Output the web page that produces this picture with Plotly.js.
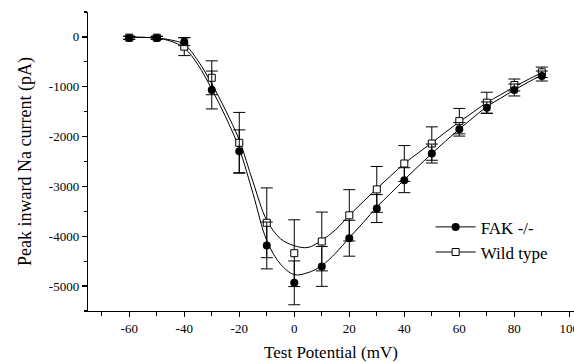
<!DOCTYPE html>
<html>
<head>
<meta charset="utf-8">
<script src="https://cdn.plot.ly/plotly-3.0.1.min.js"></script>
<style>html,body{margin:0;padding:0;background:#fff;}#chart{width:574px;height:362px;}</style>
</head>
<body>
<div id="chart"></div>
<script>
// Measured data points (mV, pA)
const voltages = [-60, -50, -40, -30, -20, -10, 0, 10, 20, 30, 40, 50, 60, 70, 80, 90];
const fakCurrent = [-20, -20, -95, -1065, -2295, -4185, -4935, -4605, -4040, -3445, -2875, -2340, -1855, -1420, -1065, -785];
const fakError   = [30, 30, 80, 380, 430, 470, 440, 400, 360, 280, 250, 190, 135, 115, 120, 100];
const wtCurrent  = [-15, -15, -195, -820, -2125, -3730, -4340, -4105, -3580, -3060, -2540, -2140, -1690, -1320, -965, -710];
const wtError    = [30, 30, 180, 340, 610, 700, 670, 590, 515, 460, 360, 335, 255, 210, 120, 105];

// Fit curves
const fitVoltages = [-60, -55, -50, -45, -40, -35, -30, -25, -20, -15, -10, -5, 0, 5, 10, 15, 20, 25, 30, 35, 40, 45, 50, 55, 60, 65, 70, 75, 80, 85, 90];
const fakFit = [-5, -10, -25, -85, -220, -560, -1050, -1600, -2240, -3145, -4085, -4560, -4770, -4730, -4590, -4340, -4030, -3730, -3415, -3140, -2865, -2600, -2340, -2090, -1850, -1620, -1400, -1230, -1065, -910, -765];
const wtFit  = [-3, -8, -20, -60, -150, -480, -940, -1470, -2070, -2910, -3680, -4050, -4190, -4225, -4080, -3870, -3580, -3310, -3045, -2790, -2540, -2330, -2125, -1910, -1705, -1510, -1320, -1160, -1000, -855, -718];

const seriesNames = ["FAK -/-", "Wild type"];

// Tick labels (hyphen minus as in the figure)
const xTickVals = [-60, -40, -20, 0, 20, 40, 60, 80, 100];
const xTickText = ["-60", "-40", "-20", "0", "20", "40", "60", "80", "100"];
const yTickVals = [0, -1000, -2000, -3000, -4000, -5000];
const yTickText = ["0", "-1000", "-2000", "-3000", "-4000", "-5000"];

const font = "Liberation Serif, Times New Roman, serif";

const traces = [
  {x: fitVoltages, y: fakFit, mode: "lines", line: {color: "#000", width: 1, shape: "spline"}, showlegend: false, hoverinfo: "skip"},
  {x: fitVoltages, y: wtFit, mode: "lines", line: {color: "#000", width: 1, shape: "spline"}, showlegend: false, hoverinfo: "skip"},
  {x: voltages, y: wtCurrent, mode: "markers", showlegend: false,
   error_y: {type: "data", array: wtError, visible: true, color: "#000", thickness: 1, width: 6},
   marker: {symbol: "square", size: 7, color: "#fff", line: {color: "#000", width: 1}}},
  {x: voltages, y: fakCurrent, mode: "markers", showlegend: false,
   error_y: {type: "data", array: fakError, visible: true, color: "#000", thickness: 1, width: 6},
   marker: {symbol: "circle", size: 8, color: "#000", line: {color: "#000", width: 0}}},
  // legend entries
  {x: [null], y: [null], name: seriesNames[0], mode: "lines+markers", line: {color: "#000", width: 1},
   marker: {symbol: "circle", size: 8, color: "#000"}},
  {x: [null], y: [null], name: seriesNames[1], mode: "lines+markers", line: {color: "#000", width: 1},
   marker: {symbol: "square", size: 7, color: "#fff", line: {color: "#000", width: 1}}}
];

const layout = {
  width: 574, height: 362,
  margin: {l: 88, r: 0, t: 12, b: 51},
  paper_bgcolor: "#fff", plot_bgcolor: "#fff",
  font: {family: font, color: "#000", size: 13},
  showlegend: true,
  legend: {x: 0.705, y: 0.34, xanchor: "left", yanchor: "top", bgcolor: "rgba(0,0,0,0)",
           itemwidth: 40, font: {family: font, size: 17, color: "#000"}, tracegroupgap: 0},
  xaxis: {
    range: [-75, 101.7], showgrid: false, zeroline: false,
    showline: true, linecolor: "#000", linewidth: 1.2,
    ticks: "outside", ticklen: 5, tickwidth: 1.2, tickcolor: "#000",
    tickmode: "array", tickvals: xTickVals, ticktext: xTickText,
    ticklabeloverflow: "allow",
    minor: {ticks: "outside", ticklen: 4, tickwidth: 1.2, tickcolor: "#000", dtick: 10, tick0: -70, showgrid: false},
    tickfont: {family: font, size: 13, color: "#000"},
    title: {text: "Test Potential (mV)", font: {family: font, size: 17, color: "#000"}, standoff: 14}
  },
  yaxis: {
    range: [-5500, 500], showgrid: false, zeroline: false,
    showline: true, linecolor: "#000", linewidth: 1.2,
    ticks: "outside", ticklen: 5, tickwidth: 1.2, tickcolor: "#000",
    tickmode: "array", tickvals: yTickVals, ticktext: yTickText,
    minor: {ticks: "outside", ticklen: 3, tickwidth: 1.2, tickcolor: "#000", dtick: 500, tick0: 0, showgrid: false},
    tickfont: {family: font, size: 13, color: "#000"},
    title: {text: "Peak inward Na current (pA)", font: {family: font, size: 18, color: "#000"}, standoff: 12}
  }
};

Plotly.newPlot("chart", traces, layout, {staticPlot: true, displayModeBar: false});
</script>
</body>
</html>
